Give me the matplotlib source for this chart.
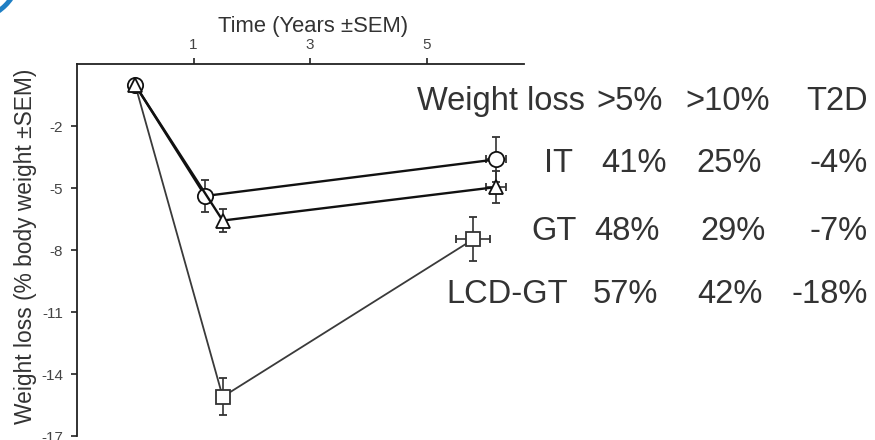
import matplotlib
matplotlib.use("Agg")
import matplotlib.pyplot as plt
from matplotlib.patches import Circle

plt.rcParams['font.family'] = ['Liberation Sans', 'DejaVu Sans']

# Mean weight change (% body weight) over time for each group
it_years = [0.0, 1.2, 6.19]
it_loss = [0.0, -5.37, -3.6]
it_sem_y = [0.0, 0.78, 1.1]
it_sem_x = [0.0, 0.0, 0.17]

gt_years = [0.0, 1.5, 6.19]
gt_loss = [0.0, -6.56, -4.94]
gt_sem_y = [0.0, 0.55, 0.77]
gt_sem_x = [0.0, 0.0, 0.17]

lcd_years = [0.0, 1.5, 5.8]
lcd_loss = [0.0, -15.1, -7.47]
lcd_sem_y = [0.0, 0.9, 1.07]
lcd_sem_x = [0.0, 0.0, 0.29]

x_ticks = [1, 3, 5]
y_ticks = [-2, -5, -8, -11, -14, -17]

# Outcome summary table
groups = ["IT", "GT", "LCD-GT"]
over5 = [41, 48, 57]
over10 = [25, 29, 42]
t2d = [-4, -7, -18]
header = ["Weight loss", ">5%", ">10%", "T2D"]

W, H = 875, 440
fig = plt.figure(figsize=(W / 100, H / 100), dpi=100)

def fx(px):
    return px / W

def fy(py):
    return 1 - py / H

ax = fig.add_axes([fx(77), fy(436), fx(524) - fx(77), fy(64.5) - fy(436)])
ax.set_xlim(-1, 6.67)
ax.set_ylim(-17, 1)

ax.spines['right'].set_visible(False)
ax.spines['bottom'].set_visible(False)
for s in ('left', 'top'):
    ax.spines[s].set_linewidth(1.3)
    ax.spines[s].set_color('#222222')

ax.xaxis.tick_top()
ax.set_xticks(x_ticks)
ax.set_xticklabels([str(t) for t in x_ticks])
ax.set_yticks(y_ticks)
ax.set_yticklabels([str(t) for t in y_ticks])
ax.tick_params(axis='both', direction='out', length=4, width=1.2,
               colors='#222222', labelcolor='#444444', labelsize=11)
ax.tick_params(axis='y', pad=6)
ax.tick_params(axis='x', pad=5)

err_kw = dict(ecolor='#333333', elinewidth=1.2, capsize=2.6, capthick=1.2)

ax.errorbar(lcd_years, lcd_loss, yerr=lcd_sem_y, xerr=lcd_sem_x,
            color='#3a3a3a', lw=1.3, marker='s', ms=9.5, mfc='white',
            mec='#333333', mew=1.3, markevery=[1, 2], zorder=2, **err_kw)
ax.errorbar(it_years, it_loss, yerr=it_sem_y, xerr=it_sem_x,
            color='#111111', lw=1.7, marker='o', ms=11, mfc='white',
            mec='#111111', mew=1.3, zorder=3, **err_kw)
ax.errorbar(gt_years, gt_loss, yerr=gt_sem_y, xerr=gt_sem_x,
            color='#111111', lw=1.7, marker='^', ms=10.5, mfc='white',
            mec='#111111', mew=1.3, zorder=4, **err_kw)

text_color = '#333333'
fig.text(fx(313), fy(32), "Time (Years ±SEM)", ha='center', va='baseline',
         fontsize=15.8, color=text_color)
fig.text(fx(26), fy(246), "Weight loss (% body weight ±SEM)", rotation=90,
         ha='center', va='center', fontsize=16.4, color=text_color)

# Summary table to the right of the plot
tfs = 23.5
fig.text(fx(585), fy(110), header[0], ha='right', va='baseline',
         fontsize=tfs, color=text_color)
fig.text(fx(630), fy(110), header[1], ha='center', va='baseline',
         fontsize=tfs, color=text_color)
fig.text(fx(728), fy(110), header[2], ha='center', va='baseline',
         fontsize=tfs, color=text_color)
fig.text(fx(868), fy(110), header[3], ha='right', va='baseline',
         fontsize=tfs, color=text_color)

row_base = [172, 240, 303]
label_right = [573, 577, 568]
col5_center = [634, 627, 625]
col10_center = [729.5, 732.5, 729.5]
for i, g in enumerate(groups):
    y = fy(row_base[i])
    fig.text(fx(label_right[i]), y, g, ha='right', va='baseline',
             fontsize=tfs, color=text_color)
    fig.text(fx(col5_center[i]), y, f"{over5[i]}%", ha='center',
             va='baseline', fontsize=tfs, color=text_color)
    fig.text(fx(col10_center[i]), y, f"{over10[i]}%", ha='center',
             va='baseline', fontsize=tfs, color=text_color)
    fig.text(fx(868), y, f"{t2d[i]}%", ha='right', va='baseline',
             fontsize=tfs, color=text_color)

# Corner accent arc
fig.patches.append(Circle((-0.3, 4.7), 0.5, transform=fig.dpi_scale_trans,
                          facecolor='none', edgecolor='#1f7fc4', lw=3.5,
                          figure=fig))

fig.savefig("out.png", dpi=100, facecolor='white')
